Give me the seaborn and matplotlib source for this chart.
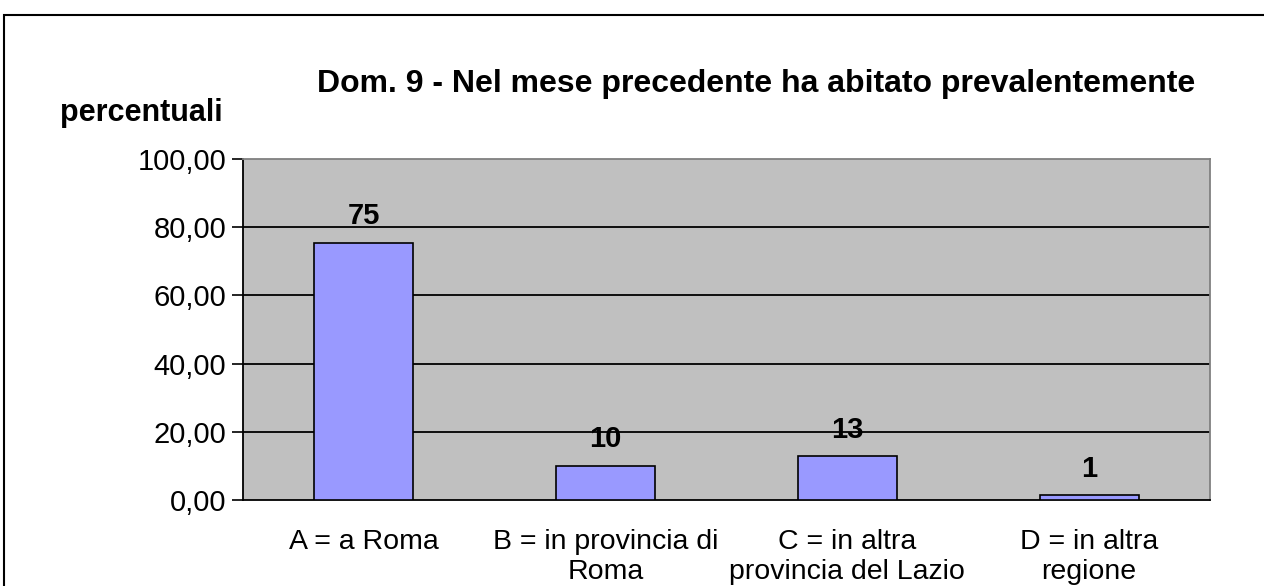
import matplotlib
matplotlib.use("Agg")
import matplotlib.pyplot as plt
import numpy as np
import pandas as pd
import seaborn as sns
from matplotlib.patches import Rectangle

categorie = ["A = a Roma", "B = in provincia di\nRoma",
             "C = in altra\nprovincia del Lazio", "D = in altra\nregione"]
percentuali = [75.4, 10.0, 12.9, 1.4]
yticks = [0, 20, 40, 60, 80, 100]

df = pd.DataFrame({"cat": categorie, "val": percentuali})

sns.set_theme(style="white")
plt.rcParams['font.family'] = ['Liberation Sans', 'DejaVu Sans']
plt.rcParams['text.color'] = 'black'
plt.rcParams['xtick.color'] = 'black'
plt.rcParams['ytick.color'] = 'black'

fig = plt.figure(figsize=(12.64, 5.86), dpi=100)
ax = fig.add_axes([243/1264, 86/586, (1210-243)/1264, (500-159)/586])
ax.set_facecolor("#C0C0C0")

sns.barplot(data=df, x="cat", y="val", color="#9999FF", edgecolor="black",
            linewidth=1.2, width=0.41, saturation=1, ax=ax, zorder=3)

for i, v in enumerate(percentuali):
    ax.annotate(f"{v:.0f}", (i, v), xytext=(0, 9), textcoords="offset points",
                ha="center", va="bottom", fontsize=21, fontweight="bold", zorder=4)

ax.set_ylim(0, 100)
ax.set_xlim(-0.5, 3.5)
ax.set_yticks(yticks)
ax.set_yticklabels([f"{t:.2f}".replace(".", ",") for t in yticks], fontsize=21)
for t in yticks[1:-1]:
    ax.axhline(t, color="black", lw=1.3, zorder=1)

ax.set_xticks(np.arange(-0.5, 4, 1))
ax.set_xticklabels([])
ax.set_xticks(range(len(categorie)), minor=True)
ax.set_xticklabels(categorie, minor=True, fontsize=20.5, linespacing=1.2)
ax.tick_params(axis="x", which="major", length=8, width=1.2, color="black", direction="out")
ax.tick_params(axis="x", which="minor", length=0, pad=21)
ax.tick_params(axis="y", length=8, width=1.2, color="black", direction="out", left=True, pad=4)
ax.set_xlabel("")
ax.set_ylabel("")

for s in ["left", "bottom"]:
    ax.spines[s].set_color("black")
    ax.spines[s].set_linewidth(1.3)
for s in ["top", "right"]:
    ax.spines[s].set_color("#808080")
    ax.spines[s].set_linewidth(1.3)

fig.text(756/1264, 1 - 84/586, "Dom. 9 - Nel mese precedente ha abitato prevalentemente",
         ha="center", va="center", fontsize=23, fontweight="bold")
fig.text(60/1264, 1 - 113/586, "percentuali", ha="left", va="center",
         fontsize=22, fontweight="bold")

fig.patches.append(Rectangle((4/1264, -0.1), 1.2, 1 - 15/586 + 0.1,
                             transform=fig.transFigure, fill=False,
                             edgecolor="black", lw=1.5))

fig.savefig("out.png", dpi=100)
